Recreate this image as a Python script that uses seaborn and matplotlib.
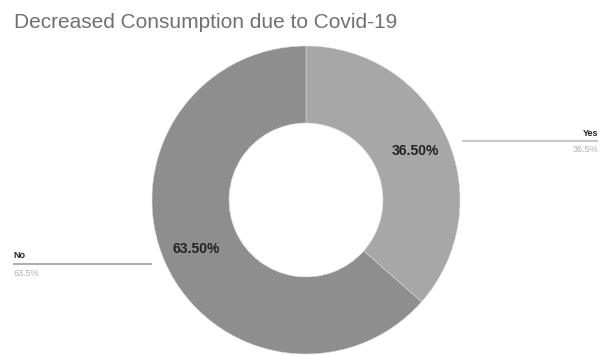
import matplotlib
matplotlib.use("Agg")
import matplotlib.pyplot as plt
import seaborn as sns

categories = ["Yes", "No"]
values = [36.5, 63.5]
value_labels = ["36.5%", "63.5%"]
title = "Decreased Consumption due to Covid-19"

sns.set_style("white")
plt.rcParams['font.family'] = ['Liberation Sans', 'DejaVu Sans']

colors = ["#a7a7a7", "#8e8e8e"]

W, H = 601, 355
fig = plt.figure(figsize=(W / 100, H / 100), dpi=100)
ax = fig.add_axes([0, 0, 1, 1])

cx, cy, R = 306, H - 200, 154
wedges, texts, autotexts = ax.pie(
    values, colors=colors, startangle=90, counterclock=False,
    center=(cx, cy), radius=R,
    wedgeprops=dict(width=R * 0.5, edgecolor="#d8d8d8", linewidth=0.4),
    autopct="%.2f%%", pctdistance=0.78,
    textprops=dict(fontsize=10, color="#222222", fontweight="bold"),
)
ax.set_xlim(0, W)
ax.set_ylim(0, H)
ax.set_aspect("equal")
ax.axis("off")

# leader lines and outside labels
ax.plot([462, 598], [H - 141, H - 141], color="#c8c8c8", lw=1.5, solid_capstyle="butt")
ax.text(598, H - 134, categories[0], ha="right", va="center", fontsize=6.5,
        color="#222222", fontweight="bold")
ax.text(598, H - 150, value_labels[0], ha="right", va="center", fontsize=6.5,
        color="#b0b0b0")

ax.plot([13, 152], [H - 264, H - 264], color="#b0b0b0", lw=1.5, solid_capstyle="butt")
ax.text(13, H - 256, categories[1], ha="left", va="center", fontsize=6.5,
        color="#222222", fontweight="bold")
ax.text(13, H - 273, value_labels[1], ha="left", va="center", fontsize=6.5,
        color="#b0b0b0")

fig.text(14 / W, 1 - 22 / H, title, ha="left", va="center", fontsize=15,
         color="#707070")

fig.savefig("out.png", dpi=100)
